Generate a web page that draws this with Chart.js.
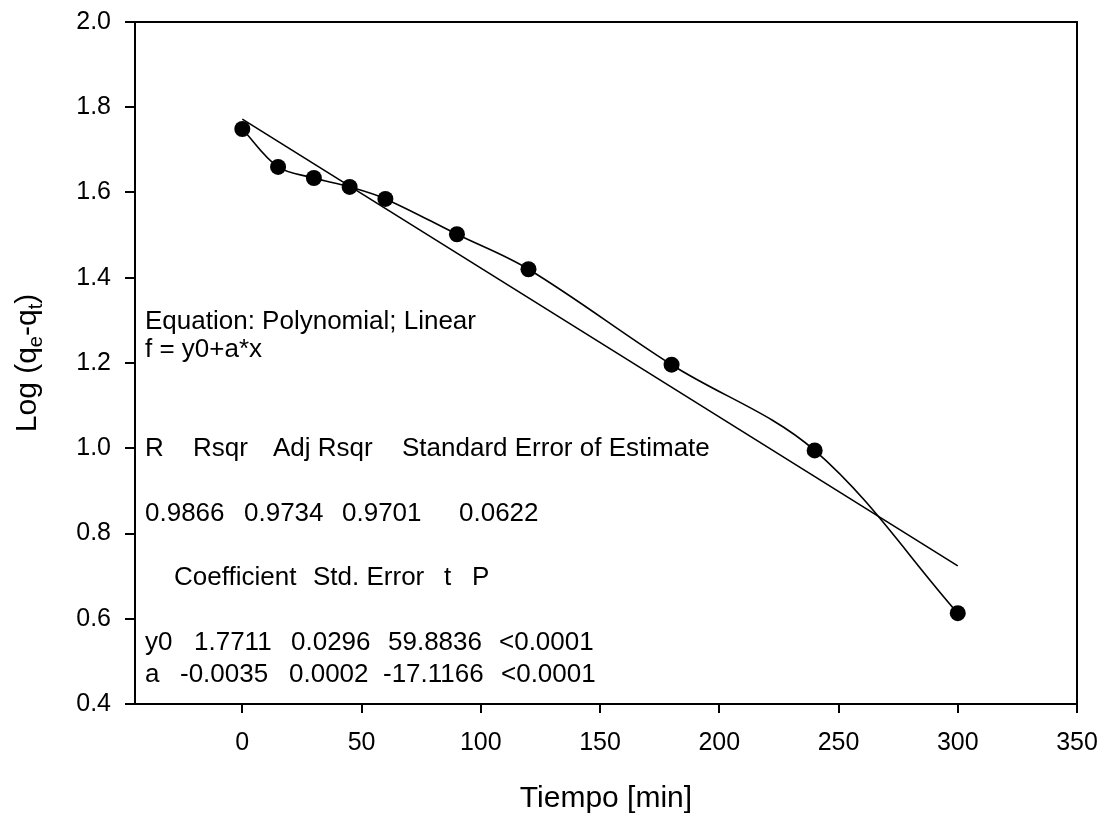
<!DOCTYPE html>
<html>
<head>
<meta charset="utf-8">
<script src="https://cdn.jsdelivr.net/npm/chart.js@4.4.1/dist/chart.umd.min.js"></script>
<style>
  html, body { margin: 0; padding: 0; background: #fff; }
</style>
</head>
<body>
<canvas id="kineticsChart" width="1101" height="818"></canvas>
<script>
// Pseudo-first-order plot: Log(qe-qt) vs time, with linear regression
const timeMin = [0, 15, 30, 45, 60, 90, 120, 180, 240, 300];
const logQeQt = [1.749, 1.660, 1.634, 1.613, 1.585, 1.502, 1.420, 1.196, 0.995, 0.613];

// regression line end points (f = y0 + a*x)
const fitTime = [0, 300];
const fitLog = [1.772, 0.724];

const xTicks = [0, 50, 100, 150, 200, 250, 300, 350];
const yTicks = [0.4, 0.6, 0.8, 1.0, 1.2, 1.4, 1.6, 1.8, 2.0];

// regression report printed inside the plot
const reportHead = ['Equation: Polynomial; Linear', 'f = y0+a*x'];
const statNames = ['R', 'Rsqr', 'Adj Rsqr', 'Standard Error of Estimate'];
const statValues = ['0.9866', '0.9734', '0.9701', '0.0622'];
const coefNames = ['Coefficient', 'Std. Error', 't', 'P'];
const coefY0 = ['y0', '1.7711', '0.0296', '59.8836', '<0.0001'];
const coefA = ['a', '-0.0035', '0.0002', '-17.1166', '<0.0001'];

const FONT = '"Liberation Sans", Arial, sans-serif';

(function () {
    // Helper: draw a row of words starting at the given left edges
    function drawRow(ctx, words, lefts, y) {
        words.forEach((w, i) => ctx.fillText(w, lefts[i], y));
    }

    // Helper: draw text made of normal / subscript pieces, centred at 0,0
    function drawRich(ctx, parts, size) {
        const sub = Math.round(size * 0.68);
        let total = 0;
        parts.forEach(p => {
            ctx.font = (p.sub ? sub : size) + 'px ' + FONT;
            total += ctx.measureText(p.t).width;
        });
        let x = -total / 2;
        parts.forEach(p => {
            ctx.font = (p.sub ? sub : size) + 'px ' + FONT;
            ctx.fillText(p.t, x, p.sub ? size * 0.28 : 0);
            x += ctx.measureText(p.t).width;
        });
    }

    // ---------------------------
    // Frame, report text, axis titles
    // ---------------------------
    const extras = {
        id: 'extras',
        afterDraw(chart) {
            const ctx = chart.ctx;
            const a = chart.chartArea;
            ctx.save();

            // top and right sides of the frame
            ctx.strokeStyle = '#000';
            ctx.lineWidth = 2;
            ctx.beginPath();
            ctx.moveTo(a.left, a.top);
            ctx.lineTo(a.right, a.top);
            ctx.lineTo(a.right, a.bottom);
            ctx.stroke();

            // regression report
            ctx.fillStyle = '#000';
            ctx.textBaseline = 'middle';
            ctx.textAlign = 'left';
            ctx.font = '26px ' + FONT;
            ctx.fillText(reportHead[0], 145, 322);
            ctx.fillText(reportHead[1], 145, 350);
            drawRow(ctx, statNames, [145, 193, 273, 402], 449);
            drawRow(ctx, statValues, [145, 244, 342, 459], 514);
            drawRow(ctx, coefNames, [174, 313, 444, 472], 578);
            drawRow(ctx, coefY0, [145, 194, 291, 388, 499], 643);
            drawRow(ctx, coefA, [145, 180, 289, 383, 501], 675);

            // x axis title
            ctx.save();
            ctx.translate((a.left + a.right) / 2, 799);
            drawRich(ctx, [{ t: 'Tiempo [min]' }], 30);
            ctx.restore();

            // y axis title with subscripts
            ctx.save();
            ctx.translate(28, (a.top + a.bottom) / 2);
            ctx.rotate(-Math.PI / 2);
            drawRich(ctx, [
                { t: 'Log (q' }, { t: 'e', sub: true }, { t: '-q' }, { t: 't', sub: true }, { t: ')' }
            ], 30);
            ctx.restore();

            ctx.restore();
        }
    };

    const ctx = document.getElementById('kineticsChart').getContext('2d');

    new Chart(ctx, {
        type: 'scatter',
        data: {
            datasets: [
                {
                    label: 'Data',
                    data: timeMin.map((t, i) => ({ x: t, y: logQeQt[i] })),
                    showLine: true,
                    borderColor: '#000',
                    borderWidth: 1.6,
                    tension: 0.35,
                    pointRadius: 8,
                    pointBackgroundColor: '#000',
                    pointBorderColor: '#000',
                    pointBorderWidth: 0
                },
                {
                    label: 'Linear fit',
                    data: fitTime.map((t, i) => ({ x: t, y: fitLog[i] })),
                    showLine: true,
                    borderColor: '#000',
                    borderWidth: 1.6,
                    pointRadius: 0
                }
            ]
        },
        options: {
            responsive: false,
            animation: false,
            devicePixelRatio: 1,
            layout: { padding: { top: 22, right: 24, left: 0, bottom: 0 } },
            plugins: {
                legend: { display: false },
                tooltip: { enabled: false }
            },
            scales: {
                x: {
                    type: 'linear',
                    min: -45,
                    max: 350,
                    afterBuildTicks: s => { s.ticks = xTicks.map(v => ({ value: v })); },
                    afterFit: s => { s.height = 114; s.paddingLeft = 0; s.paddingRight = 0; },
                    grid: { drawOnChartArea: false, color: '#000', tickLength: 9, lineWidth: 2 },
                    border: { color: '#000', width: 2 },
                    ticks: {
                        color: '#000',
                        padding: 15,
                        maxRotation: 0,
                        font: { family: FONT, size: 25 }
                    }
                },
                y: {
                    type: 'linear',
                    min: 0.4,
                    max: 2.0,
                    afterBuildTicks: s => { s.ticks = yTicks.map(v => ({ value: v })); },
                    afterFit: s => { s.width = 135; s.paddingTop = 0; s.paddingBottom = 0; },
                    grid: { drawOnChartArea: false, color: '#000', tickLength: 10, lineWidth: 2 },
                    border: { color: '#000', width: 2 },
                    ticks: {
                        color: '#000',
                        padding: 14,
                        font: { family: FONT, size: 25 },
                        callback: v => Number(v).toFixed(1)
                    }
                }
            }
        },
        plugins: [extras]
    });
})();
</script>
</body>
</html>
